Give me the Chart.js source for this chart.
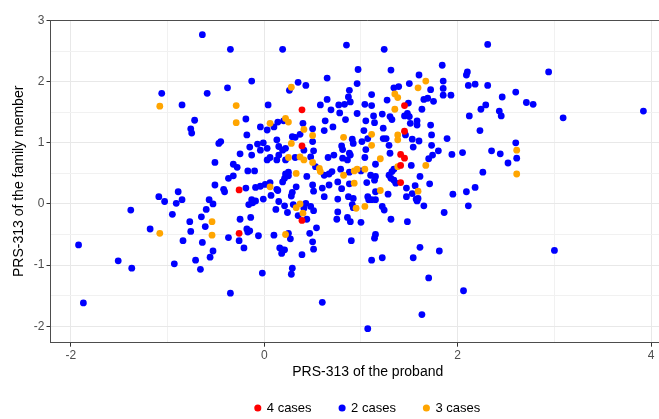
<!DOCTYPE html>
<html>
<head>
<meta charset="utf-8">
<script src="https://cdn.jsdelivr.net/npm/chart.js@4.4.0/dist/chart.umd.min.js"></script>
<style>
  html, body { margin: 0; padding: 0; background: #ffffff; overflow: hidden; }
  /* the original figure is cropped on the right, so the canvas runs past the window */
  #wrap { width: 689px; height: 419px; position: relative; }
</style>
</head>
<body>
<div id="wrap"><canvas id="scatter"></canvas></div>
<script>
// [PRS-313 of the proband, PRS-313 of the family member]
const fourCases = [
  [0.39, 1.54], [0.39, 0.95], [1.45, 1.61], [1.45, 1.19], [1.41, 0.81], [1.45, 0.75],
  [1.41, 0.63], [1.41, 0.35], [-0.26, 0.23], [-0.26, -0.48], [0.39, -0.27]
];

const threeCases = [
  [-1.08, 1.60], [-0.29, 1.61], [-0.29, 1.33], [0.28, 1.91], [0.06, 1.32], [0.22, 1.40],
  [0.25, 1.34], [0.41, 1.22], [0.50, 1.12], [0.28, 0.99], [0.25, 0.76], [0.37, 0.77],
  [0.41, 0.72], [0.50, 0.68], [1.35, 1.80], [1.38, 1.74], [1.35, 1.55], [1.67, 2.01],
  [1.59, 1.90], [1.38, 1.13], [1.38, 1.05], [1.11, 1.14], [0.82, 1.09], [1.11, 0.96],
  [1.20, 0.74], [1.67, 0.63], [0.57, 0.58], [0.58, 0.53], [0.06, 0.28], [0.33, 0.50],
  [0.33, -0.06], [0.37, 0.00], [0.40, -0.15], [-0.54, -0.29], [-0.54, -0.51], [0.22, -0.50],
  [0.82, 0.47], [0.93, 0.54], [0.96, 0.57], [1.04, 0.57], [0.93, 0.34], [1.20, 0.22],
  [1.59, 0.21], [0.95, -0.07], [1.04, -0.04], [-1.08, -0.48], [2.61, 0.88], [2.61, 0.49],
  [1.38, 0.61]
];

const twoCases = [
  // outer points
  [-1.06, 1.81], [-0.85, 1.62], [-0.72, 1.37], [-0.76, 1.23], [-0.75, 1.16], [-0.64, 2.77],
  [-0.35, 2.53], [0.19, 2.53], [0.85, 2.60], [1.24, 2.53], [2.31, 2.61], [2.11, 1.94],
  [2.18, 1.96], [2.31, 1.94], [2.46, 1.75], [2.24, 1.55], [2.29, 1.62], [2.43, 1.52],
  [2.45, 1.44], [2.23, 1.20], [2.35, 0.87], [2.44, 0.82], [2.52, 0.67], [2.26, 0.52],
  [2.94, 2.16], [2.60, 1.83], [2.71, 1.66], [2.78, 1.63], [3.09, 1.41], [3.92, 1.52],
  [2.60, 1.00], [2.61, 0.75], [2.18, 0.27], [1.70, -1.21], [2.06, -1.42], [1.63, -1.81],
  [1.07, -2.04], [3.00, -0.76], [-1.09, 0.12], [-1.03, 0.04], [-0.89, 0.20], [-0.91, 0.01],
  [-0.85, 0.07], [-1.38, -0.10], [-0.95, -0.17], [-0.77, -0.29], [-1.18, -0.41], [-0.76, -0.45],
  [-0.84, -0.60], [-1.92, -0.67], [-1.51, -0.93], [-1.37, -1.05], [-0.93, -0.98], [-0.71, -0.92],
  [-1.87, -1.62],
  // upper left of the cloud
  [-0.13, 2.01], [-0.59, 1.81], [-0.38, 1.90], [-0.19, 1.39], [0.04, 1.62], [0.26, 1.86],
  [0.35, 1.99], [0.43, 1.94], [0.65, 2.06], [0.58, 1.62], [0.65, 1.71], [0.69, 1.54],
  [0.63, 1.36], [-0.04, 1.26], [0.03, 1.21], [0.10, 1.26], [0.14, 1.34], [0.20, 1.36],
  [0.40, 1.32], [0.50, 1.23], [0.62, 1.20], [0.71, 1.26], [-0.45, 1.02], [-0.47, 0.99],
  [-0.15, 0.93], [-0.07, 0.98], [-0.01, 1.00], [-0.04, 0.88], [0.03, 0.91], [0.13, 1.05],
  [0.15, 0.94], [0.19, 0.88], [0.22, 0.91], [0.29, 1.10], [0.32, 1.09], [0.37, 1.14],
  [0.41, 0.88], [0.50, 1.02], [0.51, 0.87], [-0.25, 0.82], [-0.13, 0.80], [-0.51, 0.68],
  [-0.32, 0.65], [0.03, 0.72], [0.06, 0.76], [0.13, 0.72], [0.32, 0.76], [0.48, 0.77],
  [0.66, 0.76], [0.72, 0.80], [0.22, 0.72], [0.15, 0.80], [-0.18, 1.13],
  // upper right of the cloud
  [0.97, 2.20], [0.96, 1.97], [0.88, 1.86], [0.87, 1.75], [0.77, 1.62], [0.83, 1.63],
  [0.89, 1.67], [0.78, 1.49], [0.84, 1.38], [0.96, 1.48], [1.11, 1.79], [1.04, 1.63],
  [1.11, 1.61], [1.13, 1.44], [1.05, 1.36], [1.14, 1.33], [1.22, 1.47], [1.27, 1.70],
  [1.31, 2.19], [1.34, 1.90], [1.39, 1.92], [1.50, 1.97], [1.60, 2.11], [1.72, 1.87],
  [1.84, 2.27], [1.85, 2.01], [1.85, 1.89], [1.85, 1.78], [1.93, 1.78], [2.10, 2.16],
  [2.09, 2.11], [1.65, 1.71], [1.69, 1.73], [1.75, 1.68], [1.63, 1.55], [1.49, 1.65],
  [1.48, 1.48], [1.45, 1.44], [1.50, 1.43], [1.30, 1.43], [1.32, 1.38], [1.23, 1.24],
  [1.51, 1.32], [1.58, 1.36], [1.58, 1.29], [1.72, 1.29], [2.12, 1.44], [1.46, 1.13],
  [1.53, 1.06], [1.60, 1.03], [1.73, 1.13], [1.89, 1.07], [1.03, 1.20], [1.07, 1.07],
  [1.01, 1.02], [0.91, 1.06], [0.92, 0.99], [1.23, 1.07], [1.26, 1.07], [1.29, 0.96],
  [0.80, 0.95], [0.81, 0.89], [1.05, 0.89], [0.89, 0.80], [0.88, 0.83], [0.81, 0.75],
  [0.86, 0.72], [1.04, 0.76], [1.30, 0.83], [1.54, 0.93], [1.73, 0.96], [1.80, 0.87],
  [1.74, 0.80], [1.70, 0.74], [1.94, 0.81], [2.05, 0.84], [1.15, 0.65],
  // lower right of the cloud
  [0.79, 0.57], [0.88, 0.52], [1.00, 0.54], [0.76, 0.36], [0.88, 0.33], [0.80, 0.25],
  [1.06, 0.35], [1.10, 0.47], [1.15, 0.45], [1.14, 0.39], [1.28, 0.16], [1.15, 0.20],
  [1.29, 0.47], [1.32, 0.53], [1.34, 0.57], [1.31, 0.42], [1.34, 0.39], [1.36, 0.34],
  [1.47, 0.26], [1.56, 0.30], [1.53, 0.17], [1.47, 0.12], [1.57, 0.08], [1.59, 0.09],
  [1.58, 0.05], [1.65, -0.03], [1.71, 0.33], [1.61, 0.45], [1.52, 0.63], [1.95, 0.16],
  [2.09, 0.20], [2.11, -0.03], [1.86, -0.14], [0.76, 0.08], [0.76, -0.13], [0.75, -0.25],
  [0.87, 0.12], [0.92, 0.09], [0.91, -0.01], [0.92, -0.06], [1.07, 0.12], [1.08, 0.07],
  [1.11, 0.07], [1.15, 0.07], [1.22, -0.04], [1.24, -0.10], [0.86, -0.22], [0.89, -0.29],
  [1.00, -0.30], [1.31, -0.25], [1.48, -0.29], [1.15, -0.50], [1.14, -0.56], [0.90, -0.60],
  [1.61, -0.71], [1.81, -0.77], [1.54, -0.88], [1.22, -0.88], [1.11, -0.92],
  // lower left of the cloud
  [-0.17, 0.54], [-0.10, 0.54], [-0.32, 0.46], [-0.37, 0.42], [-0.51, 0.31], [-0.42, 0.24],
  [-0.41, 0.20], [-0.19, 0.26], [-0.09, 0.27], [-0.04, 0.29], [0.01, 0.32], [0.06, 0.35],
  [0.13, 0.24], [0.14, 0.22], [0.07, 0.14], [0.19, 0.36], [0.21, 0.42], [0.22, 0.49],
  [0.25, 0.46], [0.25, 0.52], [0.33, 0.28], [0.29, 0.19], [0.28, 0.13], [0.44, 0.45],
  [0.50, 0.31], [0.51, 0.21], [0.62, 0.47], [0.67, 0.49], [0.70, 0.53], [0.60, 0.26],
  [0.67, 0.31], [0.62, 0.12], [-0.57, 0.07], [-0.53, 0.00], [-0.60, -0.09], [-0.65, -0.21],
  [-0.16, -0.01], [-0.13, 0.07], [-0.09, 0.05], [-0.12, 0.02], [-0.01, 0.08], [0.15, 0.04],
  [0.12, -0.09], [0.21, -0.03], [0.24, -0.14], [0.30, -0.01], [0.35, -0.19], [0.44, -0.25],
  [0.43, 0.01], [0.48, -0.04], [0.51, -0.11], [0.41, -0.07], [-0.61, -0.37], [-0.64, -0.63],
  [-0.25, -0.25], [-0.14, -0.22], [-0.18, -0.41], [-0.15, -0.44], [-0.17, -0.46], [-0.06, -0.52],
  [-0.37, -0.55], [-0.26, -0.60], [-0.21, -0.72], [-0.53, -0.77], [-0.56, -0.87], [-0.66, -1.07],
  [0.10, -0.51], [0.25, -0.48], [0.27, -0.57], [0.16, -0.72], [0.19, -0.75], [0.21, -0.75],
  [0.18, -0.81], [0.39, -0.83], [0.47, -0.48], [0.50, -0.62], [0.51, -0.74], [0.54, -0.39],
  [0.29, -1.05], [0.28, -1.15], [-0.02, -1.13], [-0.35, -1.46], [0.60, -1.61], [-0.28, 0.60],
  [0.53, 0.61]
];

const xTicks = [-2, -1, 0, 1, 2, 3, 4];
const xLabels = [-2, 0, 2, 4];
const yTicks = [-2, -1.5, -1, -0.5, 0, 0.5, 1, 1.5, 2, 2.5, 3];
const yLabels = [-2, -1, 0, 1, 2, 3];

const toPoints = (pairs) => pairs.map(([x, y]) => ({ x, y }));

const isMajorX = (v) => xLabels.includes(v);
const isMajorY = (v) => yLabels.includes(v);

// ggplot-style panel border along the top edge
const panelTop = {
  id: "panelTop",
  afterDraw(chart) {
    const { ctx, chartArea } = chart;
    ctx.save();
    ctx.strokeStyle = "#4d4d4d";
    ctx.lineWidth = 1;
    ctx.beginPath();
    ctx.moveTo(chartArea.left, Math.round(chartArea.top) + 0.5);
    ctx.lineTo(chartArea.right, Math.round(chartArea.top) + 0.5);
    ctx.stroke();
    ctx.restore();
  },
};

const font = "'Liberation Sans', Arial, sans-serif";

new Chart(document.getElementById("scatter"), {
  type: "scatter",
  data: {
    datasets: [
      { label: "4 cases", data: toPoints(fourCases), backgroundColor: "#ff0000", order: 0 },
      { label: "2 cases", data: toPoints(twoCases), backgroundColor: "#0000ff", order: 2 },
      { label: "3 cases", data: toPoints(threeCases), backgroundColor: "#ffa500", order: 1 },
    ],
  },
  options: {
    responsive: true,
    maintainAspectRatio: false,
    animation: false,
    events: [],
    elements: {
      point: { radius: 3.4, borderWidth: 0, pointStyle: "circle" },
    },
    layout: { padding: { top: 20, left: 0, right: 0, bottom: -5.5 } },
    scales: {
      x: {
        type: "linear",
        min: -2.21,
        max: 4.35,
        afterBuildTicks: (axis) => {
          axis.ticks = xTicks.map((v) => ({ value: v }));
        },
        afterFit: (scale) => {
          scale.height = 30.8;
        },
        ticks: {
          autoSkip: false,
          maxRotation: 0,
          padding: 2,
          color: "#4d4d4d",
          font: { family: font, size: 12 },
          callback: (v) => (isMajorX(v) ? v : ""),
        },
        grid: {
          color: (c) => (isMajorX(c.tick.value) ? "#e8e8e8" : "#f1f1f1"),
          lineWidth: 1,
          tickLength: 4,
          tickColor: (c) => (isMajorX(c.tick.value) ? "#333333" : "rgba(0,0,0,0)"),
        },
        border: { display: true, color: "#4d4d4d", width: 1 },
        title: {
          display: true,
          text: "PRS-313 of the proband",
          color: "#000000",
          font: { family: font, size: 14 },
          padding: { top: 0, bottom: -7 },
        },
      },
      y: {
        type: "linear",
        min: -2.27,
        max: 3.01,
        afterBuildTicks: (axis) => {
          axis.ticks = yTicks.map((v) => ({ value: v }));
        },
        afterFit: (scale) => {
          scale.width = 50.5;
        },
        ticks: {
          autoSkip: false,
          padding: 2,
          color: "#4d4d4d",
          font: { family: font, size: 12 },
          callback: (v) => (isMajorY(v) ? v : ""),
        },
        grid: {
          color: (c) => (isMajorY(c.tick.value) ? "#e8e8e8" : "#f1f1f1"),
          lineWidth: 1,
          tickLength: 4,
          tickColor: (c) => (isMajorY(c.tick.value) ? "#333333" : "rgba(0,0,0,0)"),
        },
        border: { display: true, color: "#4d4d4d", width: 1 },
        title: {
          display: true,
          text: "PRS-313 of the family member",
          color: "#000000",
          font: { family: font, size: 14 },
          padding: { top: 11, bottom: 0 },
        },
      },
    },
    plugins: {
      legend: {
        position: "bottom",
        fullSize: false,
        labels: {
          sort: (a, b) => a.datasetIndex - b.datasetIndex,
          usePointStyle: true,
          pointStyle: "circle",
          boxWidth: 5,
          boxHeight: 5,
          padding: 28,
          color: "#000000",
          font: { family: font, size: 13 },
        },
      },
      tooltip: { enabled: false },
    },
  },
  plugins: [panelTop],
});
</script>
</body>
</html>
